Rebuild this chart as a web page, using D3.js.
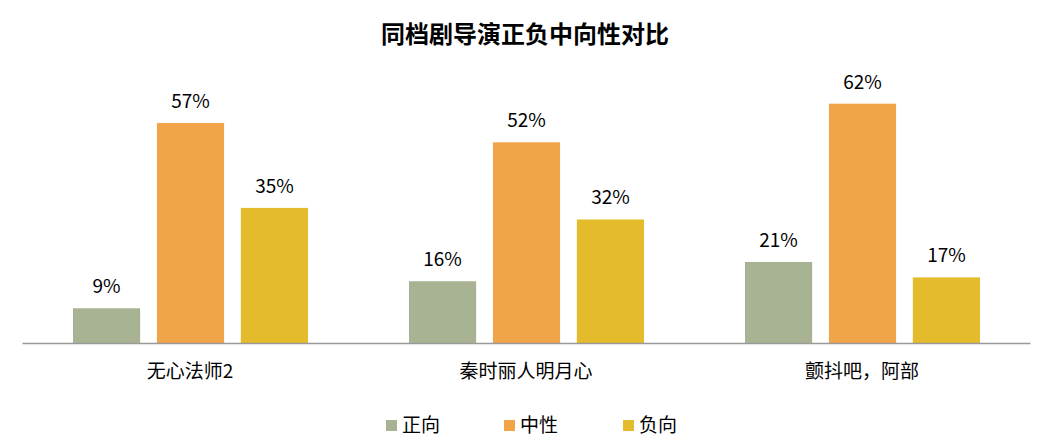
<!DOCTYPE html>
<html>
<head>
<meta charset="utf-8">
<script src="https://cdn.jsdelivr.net/npm/d3@7"></script>
<style>
  body { margin: 0; background: #fff; }
  text { font-family: "Noto Sans CJK SC", "Noto Sans", sans-serif; fill: #000; }
</style>
</head>
<body>
<div id="chart"></div>
<script>
// Data
var categories = ["无心法师2", "秦时丽人明月心", "颤抖吧，阿部"];
var seriesNames = ["正向", "中性", "负向"];
var positive = [9, 16, 21];
var neutral = [57, 52, 62];
var negative = [35, 32, 17];
var colors = ["#a8b393", "#f2a548", "#e4bc2b"];

var svgWidth = 1052;
var svgHeight = 443;

var svg = d3.select("#chart")
    .append("svg")
    .attr("width", svgWidth)
    .attr("height", svgHeight);

// Build rows from arrays
var series = [positive, neutral, negative];
var rows = categories.map(function (c, i) {
    return {
        category: c,
        values: seriesNames.map(function (s, j) {
            return { name: s, value: series[j][i], color: colors[j] };
        })
    };
});

// Scales
var x0 = d3.scaleBand()
    .domain(categories)
    .range([22, 1030]);

var x1 = d3.scaleBand()
    .domain(seriesNames)
    .range([51, 286])
    .paddingInner(0.2);

var y = d3.scaleLinear()
    .domain([0, 70])
    .range([343, 72.8]);

// Title
svg.append("text")
    .attr("x", 525)
    .attr("y", 43)
    .attr("text-anchor", "middle")
    .style("font-size", "24px")
    .style("font-weight", "bold")
    .text("同档剧导演正负中向性对比");

// Bars
var groups = svg.selectAll(".group")
    .data(rows)
    .enter()
    .append("g")
    .attr("transform", d => `translate(${x0(d.category)}, 0)`);

groups.selectAll("rect")
    .data(d => d.values)
    .enter()
    .append("rect")
    .attr("x", d => x1(d.name))
    .attr("y", d => y(d.value))
    .attr("width", x1.bandwidth())
    .attr("height", d => y(0) - y(d.value))
    .attr("fill", d => d.color);

// Value labels
groups.selectAll(".label")
    .data(d => d.values)
    .enter()
    .append("text")
    .attr("x", d => x1(d.name) + x1.bandwidth() / 2)
    .attr("y", d => y(d.value) - 15)
    .attr("text-anchor", "middle")
    .style("font-size", "19px")
    .text(d => d.value + "%");

// X axis
var bottomAxis = d3.axisBottom(x0).tickSize(0).tickPadding(22);
var axisG = svg.append("g")
    .attr("transform", `translate(0, ${y(0)})`)
    .call(bottomAxis);
axisG.select(".domain").attr("stroke", "#999").attr("stroke-width", 1.3);
axisG.selectAll("text")
    .style("font-size", "19px")
    .style("font-family", "'Noto Sans CJK SC', sans-serif")
    .attr("fill", "#000");

// Legend
var legendX = [386, 504, 623];
var legend = svg.selectAll(".legend")
    .data(seriesNames)
    .enter()
    .append("g")
    .attr("transform", (d, i) => `translate(${legendX[i]}, 420)`);

legend.append("rect")
    .attr("width", 11)
    .attr("height", 11)
    .attr("fill", (d, i) => colors[i]);

legend.append("text")
    .attr("x", 16)
    .attr("y", 12)
    .style("font-size", "19px")
    .text(d => d);
</script>
</body>
</html>
